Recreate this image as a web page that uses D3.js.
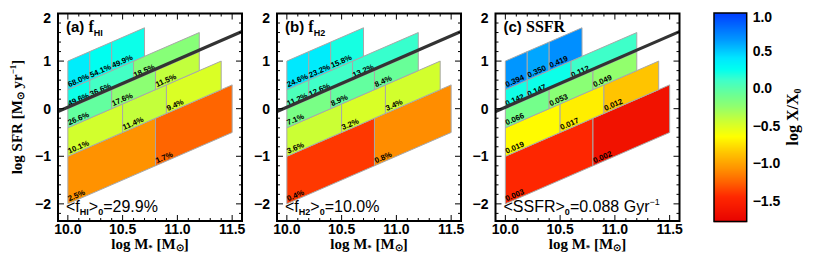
<!DOCTYPE html>
<html><head><meta charset="utf-8">
<script src="https://cdn.jsdelivr.net/npm/d3@7"></script>
<style>body{margin:0;background:#fff}svg{display:block}</style>
</head><body><svg id="c" width="830" height="261"></svg>
<script>
// ---- data ----
// rows of log SSFR bins (bottom to top)
const rowSSFR = [[-12.0,-11.0],[-11.0,-10.4],[-10.4,-10.0],[-10.0,-9.6],[-9.6,-9.0]];
// stellar-mass bin edges for each row
const rowMassEdges = [
  [10.0,10.8,11.5],
  [10.0,10.5,10.9,11.4],
  [10.0,10.4,10.8,11.2],
  [10.0,10.2,10.6,11.2],
  [10.0,10.2,10.4,10.7]
];
const fHI  = [[2.5,1.7],[10.1,11.4,9.4],[26.6,17.6,11.5],[49.6,36.6,18.5],[68.0,54.1,49.9]];
const fH2  = [[0.4,0.8],[3.6,3.2,3.4],[7.1,8.9,8.4],[11.2,12.6,13.2],[24.6,23.2,15.8]];
const SSFR = [[0.003,0.002],[0.019,0.017,0.012],[0.066,0.053,0.049],[0.142,0.147,0.112],[0.394,0.350,0.419]];
const meanValues = [29.9, 10.0, 0.088];
const msLine = [[9.9,-0.07],[11.6,1.63]];   // thick reference line (log M*, log SFR)
const xTicks = [10.0,10.5,11.0,11.5];
const yTicks = [-2,-1,0,1,2];
const cbTicks = [1.0,0.5,0.0,-0.5,-1.0,-1.5];
// colour map stops (log X/X0 -> colour)
const cmapStops  = [1.0,0.65,0.4,0.25,0.1,-0.1,-0.25,-0.45,-0.65,-0.87,-1.08,-1.25,-1.45,-1.8];
const cmapColors = ["#003cff","#0096ff","#00e6ff","#00fff0","#40ffc8","#6eff91","#91ff6e","#cdff32","#ffff00","#ffc300","#ff9100","#ff6400","#ff2800","#e60000"];

// ---- layout ----
const svg = d3.select("#c");
const panelLefts = [58, 277, 495.5];
const PW = 184, PT = 13.5, PB = 221;
const xDomain = [9.91, 11.59], yDomain = [-2.36, 2.0];
const color = d3.scaleLinear().domain(cmapStops).range(cmapColors).interpolate(d3.interpolateRgb).clamp(true);
const sans = "'Liberation Sans', Arial, sans-serif";
const serif = "'Liberation Serif', 'Times New Roman', serif";

const panels = [
  {letter:"(a)", name:"f", sub:"HI", vals:fHI, fmt:v=>v.toFixed(1)+"%"},
  {letter:"(b)", name:"f", sub:"H2", vals:fH2, fmt:v=>v.toFixed(1)+"%"},
  {letter:"(c)", name:"SSFR", sub:"", vals:SSFR, fmt:v=>v.toFixed(3)}
];

panels.forEach((p,pi)=>{
  const L = panelLefts[pi];
  const x = d3.scaleLinear().domain(xDomain).range([L, L+PW]);
  const y = d3.scaleLinear().domain(yDomain).range([PB, PT]);
  const g = svg.append("g");
  const cid = "clip"+pi;
  svg.append("clipPath").attr("id",cid).append("rect").attr("x",L).attr("y",PT).attr("width",PW).attr("height",PB-PT);
  const X0 = meanValues[pi];
  // cells
  rowSSFR.forEach((ss,ri)=>{
    const edges = rowMassEdges[ri];
    for(let ci=0; ci<edges.length-1; ci++){
      const m0=edges[ci], m1=edges[ci+1];
      const v = p.vals[ri][ci];
      const pts = [[m0,m0+ss[0]],[m1,m1+ss[0]],[m1,m1+ss[1]],[m0,m0+ss[1]]];
      g.append("polygon")
        .attr("points", pts.map(d=>x(d[0])+","+y(d[1])).join(" "))
        .attr("fill", color(Math.log10(v/X0)))
        .attr("stroke","#a8a8a8").attr("stroke-width",1);
    }
  });
  // labels
  const ang = -Math.atan((y(0)-y(1))/(x(11)-x(10)))*180/Math.PI;
  rowSSFR.forEach((ss,ri)=>{
    const edges = rowMassEdges[ri];
    for(let ci=0; ci<edges.length-1; ci++){
      const m0=edges[ci];
      const v = p.vals[ri][ci];
      const px = x(m0)+1.5, py = y(m0+ss[0])-2.5;
      g.append("text").attr("x",px).attr("y",py)
        .attr("transform",`rotate(${ang},${px},${py})`)
        .attr("font-family",sans).attr("font-size",7.8).attr("font-weight","bold")
        .attr("fill","#000").text(p.fmt(v));
    }
  });
  // reference line
  g.append("line").attr("clip-path",`url(#${cid})`)
    .attr("x1",x(msLine[0][0])).attr("y1",y(msLine[0][1]))
    .attr("x2",x(msLine[1][0])).attr("y2",y(msLine[1][1]))
    .attr("stroke","#333").attr("stroke-width",3.2);
  // ticks
  const ax = g.append("g").attr("stroke","#000").attr("stroke-width",1);
  const xMinor = d3.range(10.0,11.55,0.1).filter(v=>v>xDomain[0]&&v<xDomain[1]);
  xMinor.forEach(v=>{
    const major = xTicks.some(t=>Math.abs(t-v)<1e-6);
    const len = major?6:3;
    ax.append("line").attr("x1",x(v)).attr("x2",x(v)).attr("y1",PB).attr("y2",PB-len);
    ax.append("line").attr("x1",x(v)).attr("x2",x(v)).attr("y1",PT).attr("y2",PT+len);
  });
  const yMinor = d3.range(-2.2,2.01,0.2).filter(v=>v>yDomain[0]-1e-6&&v<yDomain[1]+1e-6);
  yMinor.forEach(v=>{
    const major = yTicks.some(t=>Math.abs(t-v)<1e-6);
    const len = major?6:3;
    ax.append("line").attr("y1",y(v)).attr("y2",y(v)).attr("x1",L).attr("x2",L+len);
    ax.append("line").attr("y1",y(v)).attr("y2",y(v)).attr("x1",L+PW).attr("x2",L+PW-len);
  });
  g.append("rect").attr("x",L).attr("y",PT).attr("width",PW).attr("height",PB-PT)
    .attr("fill","none").attr("stroke","#000").attr("stroke-width",2);
  // tick labels
  xTicks.forEach(t=>{
    g.append("text").attr("x",x(t)).attr("y",PB+12.5).attr("text-anchor","middle")
      .attr("font-family",sans).attr("font-size",14).attr("font-weight","bold").text(t.toFixed(1));
  });
  yTicks.forEach(t=>{
    const yy = Math.max(y(t), PT+4);
    g.append("text").attr("x",L-7).attr("y",yy+5).attr("text-anchor","end")
      .attr("font-family",sans).attr("font-size",14).attr("font-weight","bold").text(t<0?"\u2212"+Math.abs(t):String(t));
  });
  // x title
  const xt = g.append("text").attr("x",L+PW/2).attr("y",249).attr("text-anchor","middle")
    .attr("font-family",serif).attr("font-size",15).attr("font-weight","bold");
  xt.append("tspan").text("log M");
  xt.append("tspan").attr("font-size",9).attr("dy",2).text("*");
  xt.append("tspan").attr("dy",-2).text(" [M");
  xt.append("tspan").attr("font-size",10).attr("dy",2).text("\u2299");
  xt.append("tspan").attr("dy",-2).text("]");
  // panel title
  const pt = g.append("text").attr("x",L+8).attr("y",32).attr("font-family",sans)
    .attr("font-size",15).attr("font-weight","bold");
  pt.append("tspan").text(p.letter+" ");
  pt.append("tspan").attr("font-family",serif).attr("font-size",16).text(" "+p.name);
  if(p.sub){
    pt.append("tspan").attr("font-size",9).attr("dy",4).text(p.sub);
  }
  // mean annotation
  const an = g.append("text").attr("x",L+8).attr("y",212).attr("font-family",sans).attr("font-size",16);
  an.append("tspan").text("<");
  if(p.sub){
    an.append("tspan").text("f");
    an.append("tspan").attr("font-size",9).attr("font-weight","bold").attr("dy",3).text(p.sub);
    an.append("tspan").attr("dy",-3).text(">");
    an.append("tspan").attr("font-size",9).attr("font-weight","bold").attr("dy",3).text("0");
    an.append("tspan").attr("dy",-3).text("="+meanValues[pi].toFixed(1)+"%");
  } else {
    an.append("tspan").text("SSFR>");
    an.append("tspan").attr("font-size",9).attr("font-weight","bold").attr("dy",3).text("0");
    an.append("tspan").attr("dy",-3).text("="+meanValues[pi].toFixed(3)+" Gyr");
    an.append("tspan").attr("font-size",9).attr("dy",-7).text("\u22121");
  }
});

// y title
const yt = svg.append("text").attr("transform","translate(22,117) rotate(-90)").attr("text-anchor","middle")
  .attr("font-family",serif).attr("font-size",15).attr("font-weight","bold");
yt.append("tspan").text("log SFR [M");
yt.append("tspan").attr("font-size",10).attr("dy",2).text("\u2299");
yt.append("tspan").attr("dy",-2).text(" yr");
yt.append("tspan").attr("font-size",9).attr("dy",-6).text("\u22121");
yt.append("tspan").attr("dy",6).text("]");

// colour bar
const cbX = 714, cbW = 32.7, cbT = 13, cbB = 221.5;
const cbY = d3.scaleLinear().domain([-1.78,1.0]).range([cbB,cbT]);
const cb = svg.append("g");
for(let py=cbT; py<cbB; py+=1){
  cb.append("rect").attr("x",cbX).attr("y",py).attr("width",cbW).attr("height",1.2)
    .attr("fill",color(cbY.invert(py+0.5)));
}
cb.append("rect").attr("x",cbX).attr("y",cbT).attr("width",cbW).attr("height",cbB-cbT)
  .attr("fill","none").attr("stroke","#000").attr("stroke-width",1.5);
cbTicks.forEach(t=>{
  const yy = Math.max(cbY(t), cbT+4);
  cb.append("text").attr("x",cbX+cbW+6).attr("y",yy+5).attr("font-family",sans).attr("font-size",14)
    .attr("font-weight","bold").text((t<0?"\u2212":"")+Math.abs(t).toFixed(1));
});
const ct = svg.append("text").attr("transform","translate(798,117) rotate(-90)").attr("text-anchor","middle")
  .attr("font-family",serif).attr("font-size",16).attr("font-weight","bold");
ct.append("tspan").text("log X/X");
ct.append("tspan").attr("font-size",10).attr("dy",3).text("0");
</script></body></html>
